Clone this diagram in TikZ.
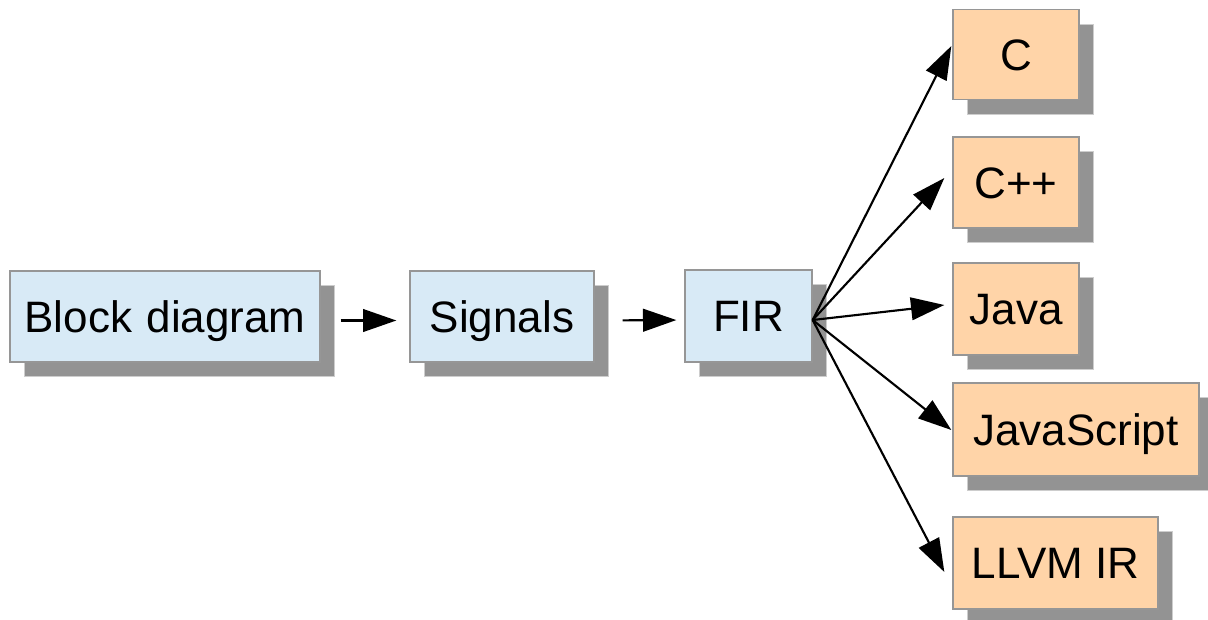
\documentclass[tikz,border=0pt]{standalone}
\usepackage{fontspec}
\setmainfont{Liberation Sans}
\usetikzlibrary{arrows.meta,calc,shadows}
\definecolor{bluefill}{RGB}{216,234,246}
\definecolor{orangefill}{RGB}{255,212,168}
\definecolor{boxborder}{RGB}{150,150,150}
\definecolor{shadowgray}{RGB}{147,147,147}
\definecolor{shadowedge}{RGB}{205,205,205}
\begin{document}
\begin{tikzpicture}[x=0.75pt,y=-0.75pt,
  box/.style={draw=boxborder, line width=1pt, inner sep=0pt,
    font=\fontsize{33}{40}\selectfont, text height=23.5pt, text depth=0pt,
    drop shadow={shadow xshift=10.5pt, shadow yshift=-11pt, fill=shadowgray, draw=shadowedge, line width=0.6pt, opacity=1}},
  bluebox/.style={box, fill=bluefill},
  orangebox/.style={box, fill=orangefill},
  arr/.style={line width=1.6pt, -{Triangle[length=25pt,width=17pt]}}]
\useasboundingbox (0,0) rectangle (1208,619);
\node[bluebox, minimum width=232.5pt, minimum height=68.25pt] (block) at (165,316.5) {Block\hspace{0.33em}diagram};
\node[bluebox, minimum width=138pt, minimum height=68.25pt] (signals) at (502,316.5) {Signals};
\node[bluebox, minimum width=95.25pt, minimum height=69pt] (fir) at (748.5,316) {FIR};
\node[orangebox, minimum width=94.5pt, minimum height=67.5pt] (c) at (1016,54.5) {C};
\node[orangebox, minimum width=94.5pt, minimum height=68.25pt] (cpp) at (1016,182.5) {C++};
\node[orangebox, minimum width=94.5pt, minimum height=69pt] (java) at (1016,309) {Java};
\node[orangebox, minimum width=184.5pt, minimum height=69.75pt] (js) at (1076,429.5) {JavaScript};
\node[orangebox, minimum width=153.75pt, minimum height=69pt] (llvm) at (1055.5,563) {LLVM IR};
\draw[arr, shorten <=15pt, shorten >=9.75pt] ($(block.east)+(0,4)$) -- ($(signals.west)+(0,4)$);
\draw[arr, shorten <=21pt, shorten >=6pt] ($(signals.east)+(0,4)$) -- ($(fir.west)+(0,4)$);
\coordinate (fan) at ($(fir.east)+(0,4)$);
\draw[arr] (fan) -- ($(c.west)+(-1,-8.5)$);
\draw[arr] (fan) -- ($(cpp.west)+(-8,-4.5)$);
\draw[arr] (fan) -- ($(java.west)+(-8,-4)$);
\draw[arr] (fan) -- ($(js.west)+(-1,0.5)$);
\draw[arr] (fan) -- ($(llvm.west)+(-8,9)$);
\end{tikzpicture}
\end{document}
